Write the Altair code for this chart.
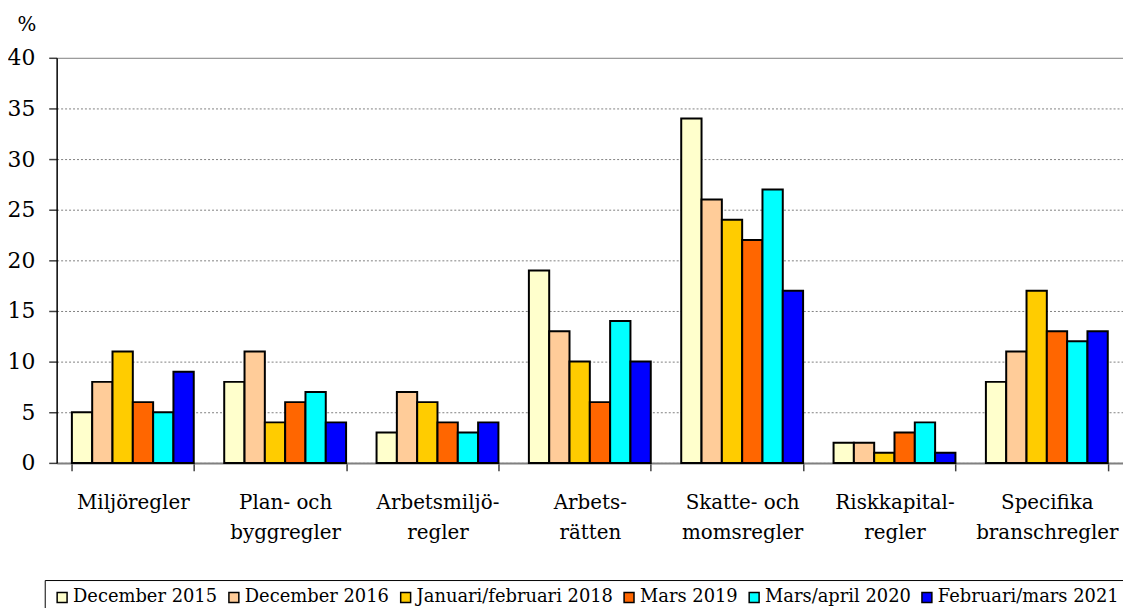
import altair as alt
import pandas as pd

categories = ["Miljöregler", "Plan- och\nbyggregler", "Arbetsmiljö-\nregler", "Arbets-\nrätten",
              "Skatte- och\nmomsregler", "Riskkapital-\nregler", "Specifika\nbranschregler"]
series = ["December 2015", "December 2016", "Januari/februari 2018", "Mars 2019",
          "Mars/april 2020", "Februari/mars 2021"]
colors = ["#FFFFCC", "#FFCC99", "#FFCC00", "#FF6600", "#00FFFF", "#0000FF"]

dec2015 = [5, 8, 3, 19, 34, 2, 8]
dec2016 = [8, 11, 7, 13, 26, 2, 11]
jan2018 = [11, 4, 6, 10, 24, 1, 17]
mar2019 = [6, 6, 4, 6, 22, 3, 13]
mar2020 = [5, 7, 3, 14, 27, 4, 12]
feb2021 = [9, 4, 4, 10, 17, 1, 13]
values = [dec2015, dec2016, jan2018, mar2019, mar2020, feb2021]

rows = []
for s, vals in zip(series, values):
    for c, v in zip(categories, vals):
        rows.append({"cat": c, "series": s, "value": v})
df = pd.DataFrame(rows)

FONT = "DejaVu Serif"

chart = alt.Chart(df).mark_bar(stroke="black", strokeWidth=2).encode(
    x=alt.X("cat:N", sort=categories,
            scale=alt.Scale(paddingInner=0.2, paddingOuter=0.1),
            axis=alt.Axis(title=None, labelAngle=0, labelExpr="split(datum.label, '\\n')",
                          labelFont=FONT, labelFontSize=20, labelColor="black",
                          labelLineHeight=30, labelBaseline="top", labelPadding=22,
                          tickBand="extent", tickSize=8, tickColor="#404040", tickWidth=1.5,
                          domainColor="#808080", domainWidth=2, grid=False, labelLimit=300)),
    xOffset=alt.XOffset("series:N", sort=series,
                        scale=alt.Scale(paddingInner=0, paddingOuter=0)),
    y=alt.Y("value:Q", scale=alt.Scale(domain=[0, 40], nice=False),
            axis=alt.Axis(title="%", titleAngle=0, titleX=-40, titleY=-27,
                          titleAlign="left", titleBaseline="alphabetic",
                          titleFont=FONT, titleFontSize=20, titleFontWeight="normal",
                          titleColor="black",
                          values=[0, 5, 10, 15, 20, 25, 30, 35, 40],
                          labelFont=FONT, labelFontSize=22, labelColor="black",
                          labelPadding=14, tickSize=8, tickColor="#404040", tickWidth=1.5,
                          domainColor="black", domainWidth=1.5,
                          grid=True, gridColor="#808080", gridWidth=1,
                          gridDash={"condition": {"test": "datum.value === 40", "value": []},
                                    "value": [2, 2]},
                          gridOpacity=1)),
    color=alt.Color("series:N", sort=series,
                    scale=alt.Scale(domain=series, range=colors),
                    legend=alt.Legend(title=None, orient="none", legendX=-12, legendY=526,
                                      direction="horizontal", columns=6,
                                      symbolType="square", symbolSize=100,
                                      symbolStrokeColor="black", symbolStrokeWidth=1.5,
                                      symbolOpacity=1,
                                      labelFont=FONT, labelFontSize=18, labelColor="black",
                                      labelOffset=2, columnPadding=7, labelLimit=400,
                                      strokeColor="black", padding=8.5)),
).properties(
    width=1074, height=408,
    autosize=alt.AutoSizeParams(type="none"),
    padding={"left": 49, "top": 48, "right": 0, "bottom": 144},
).configure_view(stroke=None)

chart.save("out.html", embed_options={"renderer": "svg", "actions": False})
